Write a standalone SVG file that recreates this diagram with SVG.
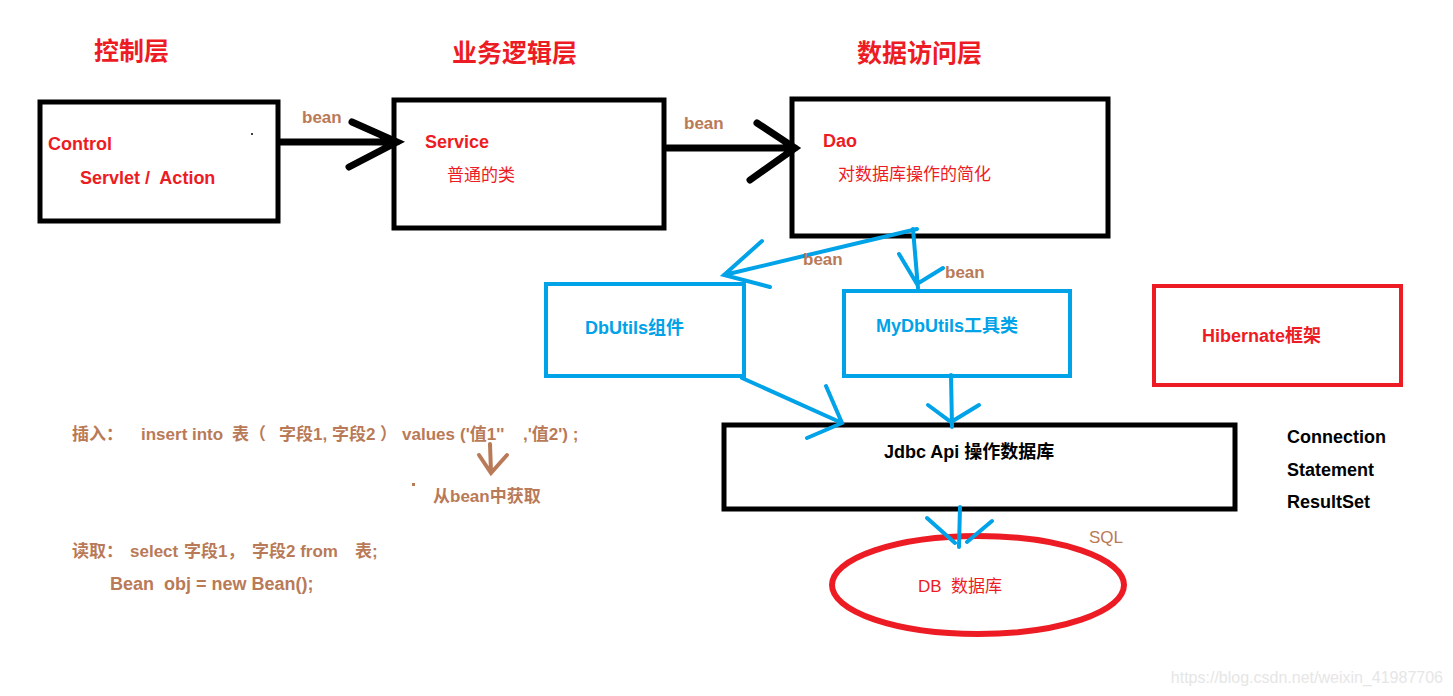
<svg xmlns="http://www.w3.org/2000/svg" width="1453" height="696" viewBox="0 0 1453 696">
<style>
text{font-family:"Liberation Sans","Noto Sans CJK SC",sans-serif;font-weight:bold;white-space:pre}
.title{font-size:25px;fill:#ed1c24}
.red{fill:#ed1c24;font-size:18px}
.blue{fill:#00a2e8;font-size:18px}
.blk{fill:#000;font-size:18px}
.brn{fill:#b97a57;font-size:17px}
.reg{font-weight:normal;font-size:17px}
.box{fill:#fff;stroke:#000;stroke-width:5}
.bbox{fill:#fff;stroke:#00a2e8;stroke-width:4}
.rbox{fill:#fff;stroke:#ed1c24;stroke-width:4}
.k{stroke:#000;stroke-width:7;stroke-linecap:round;fill:none}
.b{stroke:#00a2e8;stroke-width:4;stroke-linecap:round;fill:none}
.br{stroke:#b97a57;stroke-width:4;stroke-linecap:round;fill:none}
</style>
<rect width="1453" height="696" fill="#fff"/>
<g id="titles">
<text class="title" x="94" y="60">控制层</text>
<text class="title" x="452" y="62">业务逻辑层</text>
<text class="title" x="857" y="62">数据访问层</text>
</g>
<g id="control">
<rect class="box" x="40" y="102" width="238" height="119"/>
<text class="red" x="48" y="150">Control</text>
<text class="red" x="80" y="184">Servlet /  Action</text>
<circle cx="252" cy="134" r="1" fill="#000"/>
</g>
<g id="service">
<rect class="box" x="394" y="100" width="270" height="128"/>
<text class="red" x="425" y="148">Service</text>
<text class="red reg" x="447" y="181">普通的类</text>
</g>
<g id="dao">
<rect class="box" x="792" y="99" width="316" height="137"/>
<text class="red" x="823" y="147">Dao</text>
<text class="red reg" x="838" y="180">对数据库操作的简化</text>
</g>
<g id="dbutils">
<rect class="bbox" x="546" y="284" width="198" height="92"/>
<text class="blue" x="585" y="334">DbUtils组件</text>
</g>
<g id="mydbutils">
<rect class="bbox" x="844" y="291" width="226" height="85"/>
<text class="blue" x="876" y="332">MyDbUtils工具类</text>
</g>
<g id="hibernate">
<rect class="rbox" x="1154" y="286" width="247" height="99"/>
<text class="red" x="1202" y="342">Hibernate框架</text>
</g>
<g id="jdbc">
<rect class="box" x="724" y="425" width="511" height="84"/>
<text class="blk" x="884" y="458">Jdbc Api 操作数据库</text>
</g>
<g id="db">
<ellipse cx="978" cy="585" rx="146" ry="49" fill="none" stroke="#ed1c24" stroke-width="6"/>
<text class="red reg" x="918" y="592">DB  数据库</text>
</g>
<g id="jdbc-classes">
<text class="blk" x="1287" y="443">Connection</text>
<text class="blk" x="1287" y="476">Statement</text>
<text class="blk" x="1287" y="508">ResultSet</text>
</g>
<g id="connectors">
<path class="k" d="M281 142H397M352 122L397 142L349 167"/>
<path class="k" d="M667 148H795M757 123L795 148L750 180"/>
<path class="b" d="M917 229L724 275M762 241L724 275L770 287"/>
<path class="b" d="M913 229L918 288M899 254L917 284L943 268"/>
<path class="b" d="M742 378L842 423M826 386L842 423L807 438"/>
<path class="b" d="M951 375L952 427M928 405L951 422L979 405"/>
<path class="b" d="M960 507L959 547M927 518L955 543M992 521L967 542"/>
<path class="br" d="M490 444L491 472M479 455L491 473L507 455"/>
<text class="brn" x="302" y="123">bean</text>
<text class="brn" x="684" y="129">bean</text>
<text class="brn" x="803" y="265">bean</text>
<text class="brn" x="945" y="278">bean</text>
<text class="brn reg" x="1089" y="543">SQL</text>
</g>
<g id="notes">
<text class="brn"><tspan x="72" y="440">插入：</tspan><tspan x="141" y="440">insert into</tspan><tspan x="232" y="440">表（</tspan><tspan x="279" y="440">字段1, 字段2 ）</tspan><tspan x="402" y="440">values</tspan><tspan x="460" y="440">('值1''</tspan><tspan x="523" y="440">,'值2') ;</tspan></text>
<rect x="412" y="483" width="3" height="3" fill="#b97a57"/>
<text class="brn" x="433" y="502">从bean中获取</text>
<text class="brn"><tspan x="72" y="557">读取：</tspan><tspan x="130" y="557">select</tspan><tspan x="184" y="557">字段1，</tspan><tspan x="252" y="557">字段2 from</tspan><tspan x="355" y="557">表;</tspan></text>
<text class="brn" x="110" y="590" style="font-size:18px">Bean  obj = new Bean();</text>
</g>
<text x="1443" y="683" text-anchor="end" font-size="16" fill="#e6e6e6" style="font-weight:normal">https://blog.csdn.net/weixin_41987706</text>
</svg>
